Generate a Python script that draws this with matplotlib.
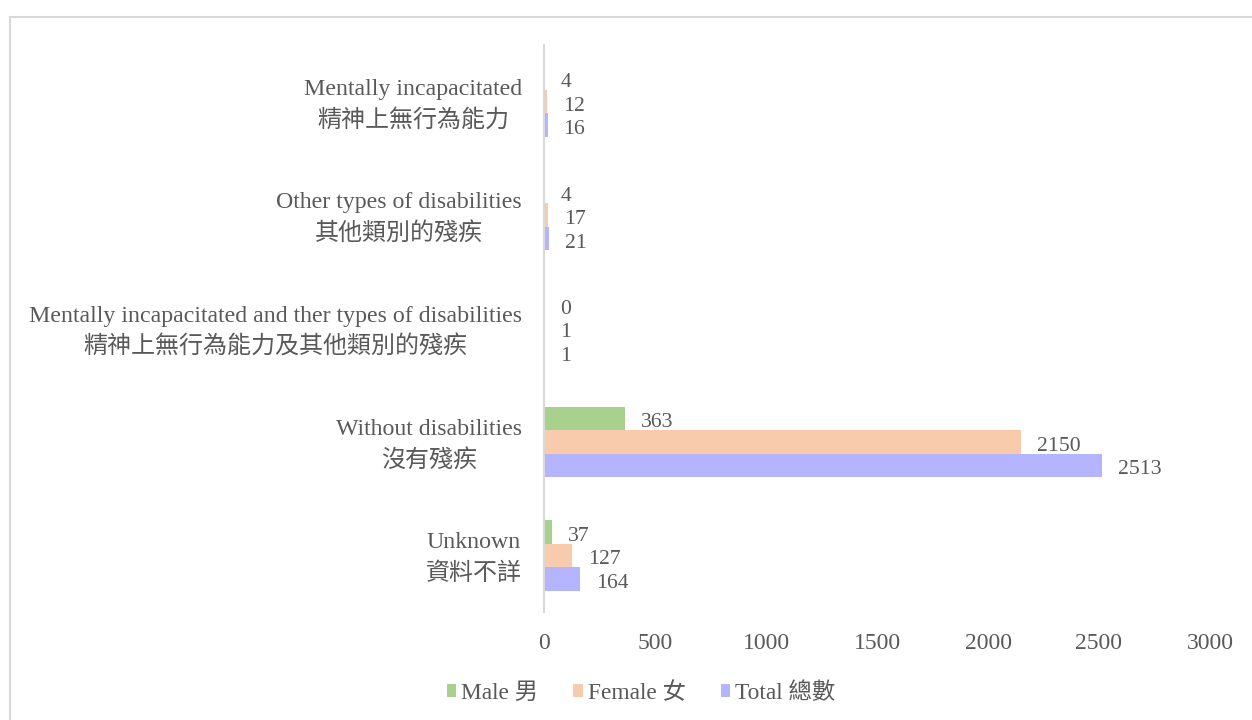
import matplotlib
matplotlib.use('Agg')
import matplotlib.pyplot as plt
from matplotlib.patches import Rectangle
import numpy as np

# categories listed bottom-up (as drawn on the y axis)
categories_en = ['Unknown', 'Without disabilities',
                 'Mentally incapacitated and ther types of disabilities',
                 'Other types of disabilities', 'Mentally incapacitated']
categories_zh = ['資料不詳', '沒有殘疾', '精神上無行為能力及其他類別的殘疾',
                 '其他類別的殘疾', '精神上無行為能力']
male = [37, 363, 0, 4, 4]
female = [127, 2150, 1, 17, 12]
total = [164, 2513, 1, 21, 16]
series_names = ['Male 男', 'Female 女', 'Total 總數']
x_ticks = [0, 500, 1000, 1500, 2000, 2500, 3000]

colors = ['#a9d18e', '#f8cbad', '#b4b4ff']
txt = '#595959'
serif = 'Liberation Serif'
cjk = 'Noto Sans CJK TC'
mixed = [serif, cjk]

W, H, DPI = 1252, 720, 100
fig = plt.figure(figsize=(W / DPI, H / DPI), dpi=DPI)
ax = fig.add_axes([544 / W, (H - 612) / H, (1210 - 544) / W, (612 - 45) / H])

# outer chart frame
fig.patches.append(Rectangle((9.5 / W, -0.05), 1.1, (H - 16.5) / H + 0.05,
                             transform=fig.transFigure, fill=False,
                             edgecolor='#d9d9d9', linewidth=1.5))

y = np.arange(len(categories_en))
h = 0.207
for vals, off, col, name in zip([male, female, total], [h, 0, -h], colors, series_names):
    bars = ax.barh(y + off, vals, height=h, color=col, label=name)
    for b, v in zip(bars, vals):
        ax.annotate(str(v), xy=(b.get_width(), b.get_y() + h / 2),
                    xytext=(11.5, -1.4), textcoords='offset points',
                    ha='left', va='center_baseline', fontsize=15.6, family=serif, color=txt)

ax.set_xlim(0, 3000)
ax.set_ylim(-0.5, len(categories_en) - 0.5)
ax.set_xticks(x_ticks)
ax.set_xticklabels([str(t) for t in x_ticks], family=serif, fontsize=17, color=txt)
ax.set_yticks([])
ax.tick_params(axis='x', length=0, pad=15)
for s in ['top', 'right', 'bottom']:
    ax.spines[s].set_visible(False)
ax.spines['left'].set_color('#d9d9d9')
ax.spines['left'].set_linewidth(1.5)

# two-line category labels, lines centred on each other, block right-aligned
renderer = fig.canvas.get_renderer()
en_dy, zh_dy = 5.0, -12.8
for i, (en, zh) in enumerate(zip(categories_en, categories_zh)):
    t1 = ax.annotate(en, xy=(0, i), xycoords=('axes fraction', 'data'),
                     xytext=(0, en_dy), textcoords='offset points',
                     ha='center', va='baseline', fontsize=17.2, family=serif, color=txt)
    t2 = ax.annotate(zh, xy=(0, i), xycoords=('axes fraction', 'data'),
                     xytext=(0, zh_dy), textcoords='offset points',
                     ha='center', va='center', fontsize=17.3, family=cjk, color=txt)
    w = max(t1.get_window_extent(renderer).width, t2.get_window_extent(renderer).width)
    dx = -(22 + w / 2) * 72 / DPI
    t1.set_position((dx, en_dy))
    t2.set_position((dx, zh_dy))

leg = fig.legend(loc='center', bbox_to_anchor=(641 / W, 1 - 693 / H), ncol=3,
                 frameon=False, handlelength=0.42, handleheight=0.42,
                 handletextpad=0.2, columnspacing=1.5,
                 prop={'family': mixed, 'size': 16.8})
for t in leg.get_texts():
    t.set_color(txt)

fig.savefig('out.png', dpi=DPI)
